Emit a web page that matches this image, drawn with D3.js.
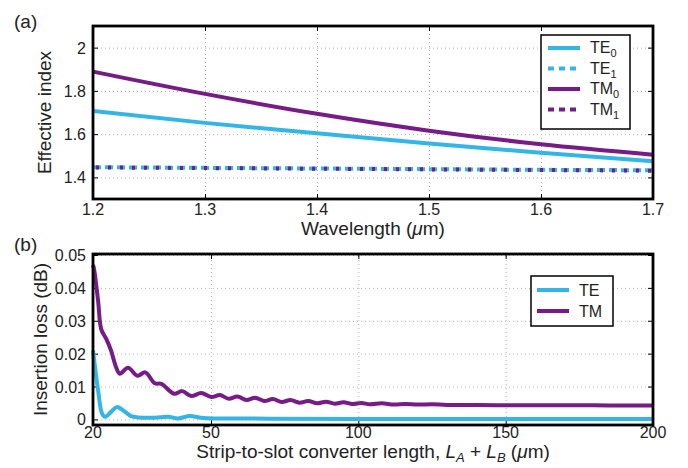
<!DOCTYPE html>
<html>
<head>
<meta charset="utf-8">
<title>Effective index and insertion loss</title>
<script src="https://cdn.jsdelivr.net/npm/d3@7"></script>
<style>
  body { margin: 0; background: #fff; }
  text { font-family: "Liberation Sans", Arial, sans-serif; fill: #222; }
  .grid line { stroke: #b5b5b5; stroke-dasharray: 1,3; }
  .grid path { display: none; }
  .tk path { display: none; }
  .tk line { stroke: #000; }
</style>
</head>
<body>
<script>
// panel (a): effective index vs wavelength
var wavelength = [1.2, 1.3, 1.4, 1.5, 1.6, 1.7];
var te0 = [1.707, 1.652, 1.604, 1.557, 1.514, 1.475];
var te1 = [1.447, 1.444, 1.441, 1.438, 1.435, 1.433];
var tm0 = [1.889, 1.786, 1.694, 1.616, 1.553, 1.505];
var tm1 = [1.446, 1.443, 1.440, 1.437, 1.434, 1.431];
var aXTicks = [1.2, 1.3, 1.4, 1.5, 1.6, 1.7];
var aYTicks = [1.4, 1.6, 1.8, 2];

// panel (b): insertion loss vs converter length
var lenTM = [20, 20.3, 21.3, 22.1, 23.4, 24.6, 25.9, 26.8, 28.9, 31.3, 33.3, 35.7, 37.4, 40.6, 42.7, 45, 47.5, 50.1,
  53, 56, 59, 62, 65, 68, 71, 74, 77, 80, 83, 86, 89, 92, 95, 98, 101, 104, 108, 112, 116, 120, 125, 130, 140, 150, 160, 170, 180, 190, 200];
var lossTM = [0.047, 0.0455, 0.036, 0.0274, 0.0244, 0.0209, 0.0158, 0.0139, 0.0157, 0.0133, 0.0143, 0.011, 0.0108, 0.0078, 0.0086, 0.0071, 0.008, 0.0068,
  0.0074, 0.0063, 0.007, 0.0059, 0.0066, 0.0056, 0.0062, 0.0053, 0.0059, 0.0051, 0.0056, 0.0049, 0.0054, 0.0048, 0.0052, 0.0047, 0.005, 0.0046, 0.0049, 0.0045, 0.0047, 0.0045, 0.0046, 0.0044, 0.0044, 0.0043, 0.0043, 0.0043, 0.0043, 0.0042, 0.0042];
var lenTE = [20, 21.3, 22.3, 23.1, 24.6, 26.1, 27.6, 29.7, 31.4, 35.7, 39.1, 41.6, 44.6, 47.5, 51.2, 60, 70, 100, 150, 200];
var lossTE = [0.021, 0.0088, 0.0018, 0.0008, 0.0023, 0.0038, 0.0028, 0.001, 0.0006, 0.0005, 0.0008, 0.0003, 0.001, 0.0005, 0.0003, 0.0003, 0.0002, 0.0001, 0.0001, 0.0001];
var bXTicks = [20, 50, 100, 150, 200];
var bYTicks = [0, 0.01, 0.02, 0.03, 0.04, 0.05];

var cTE = "#33b6e6", cTM = "#771b86";

var svg = d3.select("body").append("svg").attr("width", 688).attr("height", 468);

var left = 93, right = 653;

function panel(top, bottom, x, y, xTicks, yTicks, labelGap) {
  var g = svg.append("g");
  // grid
  g.append("g").attr("class", "grid").attr("transform", "translate(0," + bottom + ")")
    .call(d3.axisBottom(x).tickValues(xTicks).tickSize(-(bottom - top)).tickFormat(""));
  g.append("g").attr("class", "grid").attr("transform", "translate(" + left + ",0)")
    .call(d3.axisLeft(y).tickValues(yTicks).tickSize(-(right - left)).tickFormat(""));
  // inward ticks on all four sides
  g.append("g").attr("class", "tk").attr("transform", "translate(0," + bottom + ")")
    .call(d3.axisBottom(x).tickValues(xTicks).tickSize(-5).tickFormat(""));
  g.append("g").attr("class", "tk").attr("transform", "translate(0," + top + ")")
    .call(d3.axisTop(x).tickValues(xTicks).tickSize(-5).tickFormat(""));
  g.append("g").attr("class", "tk").attr("transform", "translate(" + left + ",0)")
    .call(d3.axisLeft(y).tickValues(yTicks).tickSize(-5).tickFormat(""));
  g.append("g").attr("class", "tk").attr("transform", "translate(" + right + ",0)")
    .call(d3.axisRight(y).tickValues(yTicks).tickSize(-5).tickFormat(""));
  // tick labels
  g.selectAll(".xl").data(xTicks).enter().append("text")
    .attr("x", function(d) { return x(d); }).attr("y", bottom + labelGap)
    .attr("text-anchor", "middle").attr("font-size", 16).text(function(d) { return String(d); });
  g.selectAll(".yl").data(yTicks).enter().append("text")
    .attr("x", left - 7).attr("y", function(d) { return y(d) + 6; })
    .attr("text-anchor", "end").attr("font-size", 16).text(function(d) { return String(d); });
  return g;
}

function frame(g, top, bottom) {
  g.append("rect").attr("x", left).attr("y", top).attr("width", right - left).attr("height", bottom - top)
    .attr("fill", "none").attr("stroke", "#000").attr("stroke-width", 2.8);
}

function legendLabel(t, main, sub) {
  t.append("tspan").text(main);
  if (sub) t.append("tspan").attr("font-size", 11).attr("dy", 4).text(sub);
}

// ---------- panel (a)
var aTop = 26, aBot = 199;
var xa = d3.scaleLinear().domain([1.2, 1.7]).range([left, right]);
var ya = d3.scaleLinear().domain([1.3, 2.1]).range([aBot, aTop]);
var ga = panel(aTop, aBot, xa, ya, aXTicks, aYTicks, 16);

var lineA = function(vals) {
  return d3.line().curve(d3.curveMonotoneX)
    .x(function(d, i) { return xa(wavelength[i]); })
    .y(function(d) { return ya(d); })(vals);
};
ga.append("path").attr("d", lineA(te0)).attr("fill", "none").attr("stroke", cTE).attr("stroke-width", 4);
ga.append("path").attr("d", lineA(tm0)).attr("fill", "none").attr("stroke", cTM).attr("stroke-width", 4);
ga.append("path").attr("d", lineA(te1)).attr("fill", "none").attr("stroke", cTE).attr("stroke-width", 4)
  .attr("stroke-dasharray", "8,4");
ga.append("path").attr("d", lineA(tm1)).attr("fill", "none").attr("stroke", cTM).attr("stroke-width", 4)
  .attr("stroke-dasharray", "3,9").attr("stroke-dashoffset", -3);
frame(ga, aTop, aBot);

// legend (a)
var legA = [
  { main: "TE", sub: "0", c: cTE, dash: null },
  { main: "TE", sub: "1", c: cTE, dash: "6,5" },
  { main: "TM", sub: "0", c: cTM, dash: null },
  { main: "TM", sub: "1", c: cTM, dash: "6,5" }
];
ga.append("rect").attr("x", 541).attr("y", 35).attr("width", 89).attr("height", 94)
  .attr("fill", "#fff").attr("stroke", "#000").attr("stroke-width", 1.5);
legA.forEach(function(e, i) {
  var yy = 48 + i * 20.5;
  ga.append("line").attr("x1", 548).attr("x2", 580).attr("y1", yy).attr("y2", yy)
    .attr("stroke", e.c).attr("stroke-width", 4).attr("stroke-dasharray", e.dash);
  legendLabel(ga.append("text").attr("x", 590).attr("y", yy + 5).attr("font-size", 16), e.main, e.sub);
});

svg.append("text").attr("x", 14).attr("y", 28).attr("font-size", 19).text("(a)");
svg.append("text").attr("transform", "translate(51," + ((aTop + aBot) / 2) + ") rotate(-90)")
  .attr("text-anchor", "middle").attr("font-size", 19).text("Effective index");
var xla = svg.append("text").attr("x", (left + right) / 2).attr("y", 235)
  .attr("text-anchor", "middle").attr("font-size", 19);
xla.append("tspan").text("Wavelength (");
xla.append("tspan").attr("font-style", "italic").text("μ");
xla.append("tspan").text("m)");

// ---------- panel (b)
var bTop = 254, bBot = 425;
var xb = d3.scaleLinear().domain([20, 50, 200]).range([left, left + 118, right]);
var yb = d3.scaleLinear().domain([-0.0017, 0.05]).range([bBot, bTop + 1]);
var gb = panel(bTop, bBot, xb, yb, bXTicks, bYTicks, 13);

var lineB = d3.line().curve(d3.curveCatmullRom.alpha(0.5))
  .x(function(d) { return xb(d[0]); }).y(function(d) { return yb(d[1]); });
gb.append("path").attr("d", lineB(d3.zip(lenTE, lossTE))).attr("fill", "none").attr("stroke", cTE).attr("stroke-width", 4);
gb.append("path").attr("d", lineB(d3.zip(lenTM, lossTM))).attr("fill", "none").attr("stroke", cTM).attr("stroke-width", 4);
frame(gb, bTop, bBot);

gb.append("rect").attr("x", 531).attr("y", 276).attr("width", 82).attr("height", 50)
  .attr("fill", "#fff").attr("stroke", "#000").attr("stroke-width", 1.5);
[{ t: "TE", c: cTE }, { t: "TM", c: cTM }].forEach(function(e, i) {
  var yy = 290 + i * 21;
  gb.append("line").attr("x1", 537).attr("x2", 569).attr("y1", yy).attr("y2", yy)
    .attr("stroke", e.c).attr("stroke-width", 4);
  gb.append("text").attr("x", 579).attr("y", yy + 6).attr("font-size", 16).text(e.t);
});

svg.append("text").attr("x", 14).attr("y", 251).attr("font-size", 19).text("(b)");
svg.append("text").attr("transform", "translate(47," + ((bTop + bBot) / 2) + ") rotate(-90)")
  .attr("text-anchor", "middle").attr("font-size", 19).text("Insertion loss (dB)");
var xlb = svg.append("text").attr("x", (left + right) / 2).attr("y", 458)
  .attr("text-anchor", "middle").attr("font-size", 19);
xlb.append("tspan").text("Strip-to-slot converter length, ");
xlb.append("tspan").attr("font-style", "italic").text("L");
xlb.append("tspan").attr("font-style", "italic").attr("font-size", 13).attr("dy", 4).text("A");
xlb.append("tspan").attr("dy", -4).text(" + ");
xlb.append("tspan").attr("font-style", "italic").text("L");
xlb.append("tspan").attr("font-style", "italic").attr("font-size", 13).attr("dy", 4).text("B");
xlb.append("tspan").attr("dy", -4).text(" (");
xlb.append("tspan").attr("font-style", "italic").text("μ");
xlb.append("tspan").text("m)");
</script>
</body>
</html>
